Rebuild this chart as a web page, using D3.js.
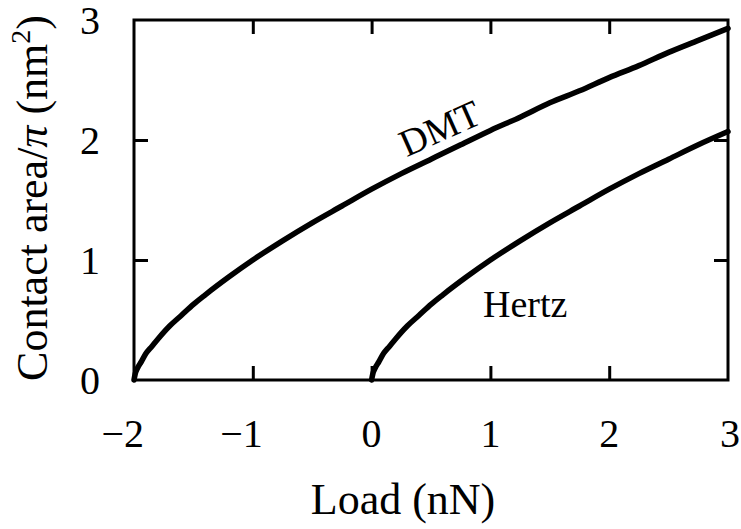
<!DOCTYPE html>
<html>
<head>
<meta charset="utf-8">
<script src="https://cdn.jsdelivr.net/npm/d3@7"></script>
<style>
  html, body { margin: 0; padding: 0; background: #fff; }
  svg { display: block; }
  text { font-family: "Liberation Serif", "Times New Roman", serif; fill: #000; }
</style>
</head>
<body>
<svg id="chart" width="741" height="529"></svg>
<script>
// Contact area / pi versus applied load for the DMT and Hertz models
const dmtLoad = [-2, -1.99, -1.97, -1.94, -1.9, -1.85, -1.8, -1.7, -1.6, -1.5, -1.4, -1.2, -1.0,
  -0.75, -0.5, -0.25, 0, 0.25, 0.5, 0.75, 1, 1.25, 1.5, 1.75, 2, 2.25, 2.5, 2.75, 3];
const dmtArea = [0, 0.05, 0.10, 0.15, 0.22, 0.28, 0.34, 0.45, 0.54, 0.63, 0.71, 0.86, 1.00,
  1.16, 1.31, 1.45, 1.59, 1.72, 1.84, 1.96, 2.08, 2.19, 2.31, 2.41, 2.52, 2.62, 2.73, 2.83, 2.93];

const hertzLoad = [0, 0.01, 0.03, 0.06, 0.1, 0.15, 0.2, 0.3, 0.4, 0.5, 0.6, 0.8, 1.0,
  1.25, 1.5, 1.75, 2, 2.25, 2.5, 2.75, 3];
const hertzArea = [0, 0.05, 0.10, 0.15, 0.22, 0.28, 0.34, 0.45, 0.54, 0.63, 0.71, 0.86, 1.00,
  1.16, 1.31, 1.45, 1.59, 1.72, 1.84, 1.96, 2.07];

const xTicks = [-2, -1, 0, 1, 2, 3];
const yTicks = [0, 1, 2, 3];

const curveNames = ["DMT", "Hertz"];
const xTitle = "Load (nN)";

const svg = d3.select("#chart");
const plot = { left: 134, right: 728, top: 20, bottom: 380 };

const x = d3.scaleLinear().domain([-2, 3]).range([plot.left, plot.right]);
const y = d3.scaleLinear().domain([0, 3]).range([plot.bottom, plot.top]);

const tickLen = 14;
const frameW = 3;

// Inward ticks on all four sides
const axisBottom = d3.axisBottom(x).tickValues(xTicks.slice(1, -1)).tickSize(-tickLen).tickFormat("");
const axisTop = d3.axisTop(x).tickValues(xTicks.slice(1, -1)).tickSize(-tickLen).tickFormat("");
const axisLeft = d3.axisLeft(y).tickValues(yTicks.slice(1, -1)).tickSize(-tickLen).tickFormat("");
const axisRight = d3.axisRight(y).tickValues(yTicks.slice(1, -1)).tickSize(-tickLen).tickFormat("");

function styleAxis(g) {
  g.select(".domain").remove();
  g.selectAll(".tick line").attr("stroke", "#000").attr("stroke-width", frameW);
}
svg.append("g").attr("transform", `translate(0,${plot.bottom})`).call(axisBottom).call(styleAxis);
svg.append("g").attr("transform", `translate(0,${plot.top})`).call(axisTop).call(styleAxis);
svg.append("g").attr("transform", `translate(${plot.left},0)`).call(axisLeft).call(styleAxis);
svg.append("g").attr("transform", `translate(${plot.right},0)`).call(axisRight).call(styleAxis);

// Frame
svg.append("rect")
  .attr("x", x(-2)).attr("y", y(3))
  .attr("width", x(3) - x(-2)).attr("height", y(0) - y(3))
  .attr("fill", "none").attr("stroke", "#000").attr("stroke-width", frameW);

// Tick labels
const tickFont = 40;
const xl = svg.append("g").attr("font-size", tickFont);
xTicks.forEach(v => {
  const digit = String(Math.abs(v));
  xl.append("text").attr("x", x(v) + (v === 3 ? 2 : 0)).attr("y", 447)
    .attr("text-anchor", "middle").text(digit);
  if (v < 0) {
    xl.append("text").attr("x", x(v) - tickFont * 0.25).attr("y", 447)
      .attr("text-anchor", "end").text("\u2212");
  }
});
const yl = svg.append("g").attr("font-size", tickFont);
yTicks.forEach(v => {
  yl.append("text").attr("x", 100).attr("y", y(v)).attr("dy", "0.34em")
    .attr("text-anchor", "end").text(String(v));
});

// Axis titles
svg.append("text").attr("x", 403).attr("y", 514).attr("text-anchor", "middle")
  .attr("font-size", 44).text(xTitle);

const yTitle = svg.append("text")
  .attr("transform", "translate(47,198) rotate(-90)")
  .attr("text-anchor", "middle").attr("font-size", 44);
yTitle.append("tspan").text("Contact area/");
yTitle.append("tspan").attr("font-style", "italic").text("\u03C0");
yTitle.append("tspan").text(" (nm");
yTitle.append("tspan").attr("font-size", 28).attr("dy", -17).text("2");
yTitle.append("tspan").attr("dy", 17).text(")");

// Curves
const line = d3.line()
  .x(d => x(d[0]))
  .y(d => y(d[1]))
  .curve(d3.curveMonotoneX);

const series = [
  d3.zip(dmtLoad, dmtArea),
  d3.zip(hertzLoad, hertzArea)
];

svg.append("g").selectAll("path").data(series).join("path")
  .attr("d", line)
  .attr("fill", "none")
  .attr("stroke", "#000")
  .attr("stroke-width", 5.5)
  .attr("stroke-linecap", "round")
  .attr("stroke-linejoin", "round");

// Curve labels
svg.append("text")
  .attr("transform", `translate(445,140) rotate(-24)`)
  .attr("text-anchor", "middle").attr("font-size", 38).text(curveNames[0]);
svg.append("text")
  .attr("x", 483).attr("y", 317)
  .attr("font-size", 38).text(curveNames[1]);
</script>
</body>
</html>
